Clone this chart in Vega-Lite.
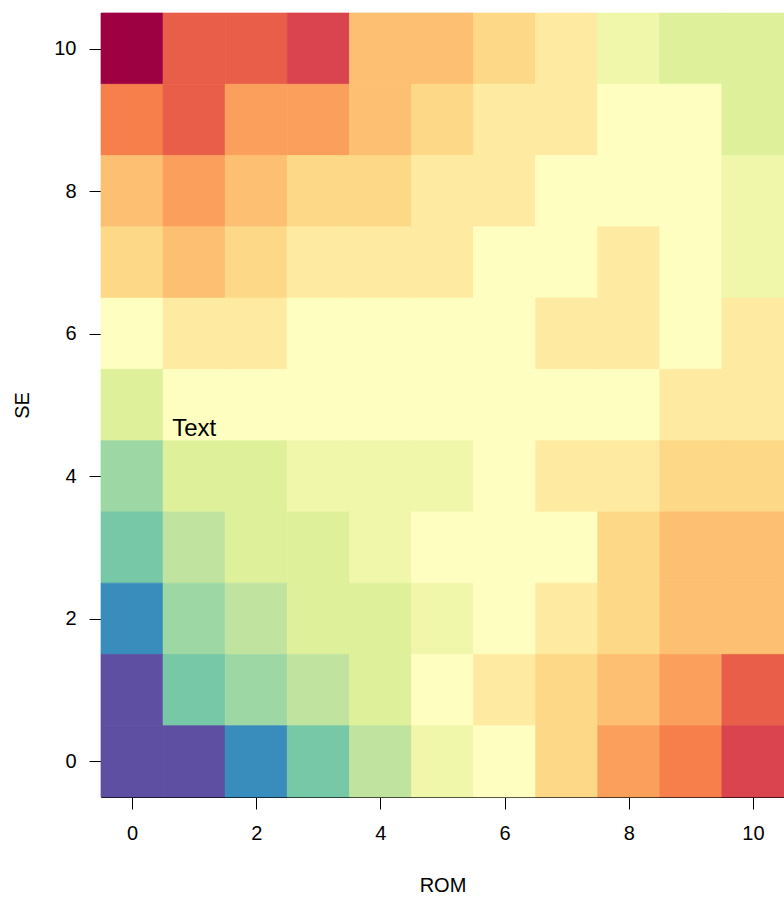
{
  "$schema": "https://vega.github.io/schema/vega-lite/v6.json",
  "width": 683,
  "height": 784,
  "autosize": {"type": "none"},
  "padding": {"left": 101, "top": 13, "right": 0, "bottom": 101},
  "background": "white",
  "config": {
    "view": {"stroke": "black", "strokeWidth": 1},
    "font": "Liberation Sans",
    "axis": {
      "domain": false,
      "grid": false,
      "tickColor": "black",
      "tickWidth": 1,
      "tickSize": 12,
      "labelColor": "black",
      "labelFontSize": 20,
      "labelFlush": false,
      "labelOverlap": false,
      "titleColor": "black",
      "titleFontSize": 20,
      "titleFontWeight": "normal"
    }
  },
  "layer": [
    {
      "data": {
        "values": [
          {"SE": 10, "ROM": 0, "z": 15}, {"SE": 10, "ROM": 1, "z": 13}, {"SE": 10, "ROM": 2, "z": 13}, {"SE": 10, "ROM": 3, "z": 14}, {"SE": 10, "ROM": 4, "z": 10}, {"SE": 10, "ROM": 5, "z": 10}, {"SE": 10, "ROM": 6, "z": 9}, {"SE": 10, "ROM": 7, "z": 8}, {"SE": 10, "ROM": 8, "z": 6}, {"SE": 10, "ROM": 9, "z": 5}, {"SE": 10, "ROM": 10, "z": 5},
          {"SE": 9, "ROM": 0, "z": 12}, {"SE": 9, "ROM": 1, "z": 13}, {"SE": 9, "ROM": 2, "z": 11}, {"SE": 9, "ROM": 3, "z": 11}, {"SE": 9, "ROM": 4, "z": 10}, {"SE": 9, "ROM": 5, "z": 9}, {"SE": 9, "ROM": 6, "z": 8}, {"SE": 9, "ROM": 7, "z": 8}, {"SE": 9, "ROM": 8, "z": 7}, {"SE": 9, "ROM": 9, "z": 7}, {"SE": 9, "ROM": 10, "z": 5},
          {"SE": 8, "ROM": 0, "z": 10}, {"SE": 8, "ROM": 1, "z": 11}, {"SE": 8, "ROM": 2, "z": 10}, {"SE": 8, "ROM": 3, "z": 9}, {"SE": 8, "ROM": 4, "z": 9}, {"SE": 8, "ROM": 5, "z": 8}, {"SE": 8, "ROM": 6, "z": 8}, {"SE": 8, "ROM": 7, "z": 7}, {"SE": 8, "ROM": 8, "z": 7}, {"SE": 8, "ROM": 9, "z": 7}, {"SE": 8, "ROM": 10, "z": 6},
          {"SE": 7, "ROM": 0, "z": 9}, {"SE": 7, "ROM": 1, "z": 10}, {"SE": 7, "ROM": 2, "z": 9}, {"SE": 7, "ROM": 3, "z": 8}, {"SE": 7, "ROM": 4, "z": 8}, {"SE": 7, "ROM": 5, "z": 8}, {"SE": 7, "ROM": 6, "z": 7}, {"SE": 7, "ROM": 7, "z": 7}, {"SE": 7, "ROM": 8, "z": 8}, {"SE": 7, "ROM": 9, "z": 7}, {"SE": 7, "ROM": 10, "z": 6},
          {"SE": 6, "ROM": 0, "z": 7}, {"SE": 6, "ROM": 1, "z": 8}, {"SE": 6, "ROM": 2, "z": 8}, {"SE": 6, "ROM": 3, "z": 7}, {"SE": 6, "ROM": 4, "z": 7}, {"SE": 6, "ROM": 5, "z": 7}, {"SE": 6, "ROM": 6, "z": 7}, {"SE": 6, "ROM": 7, "z": 8}, {"SE": 6, "ROM": 8, "z": 8}, {"SE": 6, "ROM": 9, "z": 7}, {"SE": 6, "ROM": 10, "z": 8},
          {"SE": 5, "ROM": 0, "z": 5}, {"SE": 5, "ROM": 1, "z": 7}, {"SE": 5, "ROM": 2, "z": 7}, {"SE": 5, "ROM": 3, "z": 7}, {"SE": 5, "ROM": 4, "z": 7}, {"SE": 5, "ROM": 5, "z": 7}, {"SE": 5, "ROM": 6, "z": 7}, {"SE": 5, "ROM": 7, "z": 7}, {"SE": 5, "ROM": 8, "z": 7}, {"SE": 5, "ROM": 9, "z": 8}, {"SE": 5, "ROM": 10, "z": 8},
          {"SE": 4, "ROM": 0, "z": 3}, {"SE": 4, "ROM": 1, "z": 5}, {"SE": 4, "ROM": 2, "z": 5}, {"SE": 4, "ROM": 3, "z": 6}, {"SE": 4, "ROM": 4, "z": 6}, {"SE": 4, "ROM": 5, "z": 6}, {"SE": 4, "ROM": 6, "z": 7}, {"SE": 4, "ROM": 7, "z": 8}, {"SE": 4, "ROM": 8, "z": 8}, {"SE": 4, "ROM": 9, "z": 9}, {"SE": 4, "ROM": 10, "z": 9},
          {"SE": 3, "ROM": 0, "z": 2}, {"SE": 3, "ROM": 1, "z": 4}, {"SE": 3, "ROM": 2, "z": 5}, {"SE": 3, "ROM": 3, "z": 5}, {"SE": 3, "ROM": 4, "z": 6}, {"SE": 3, "ROM": 5, "z": 7}, {"SE": 3, "ROM": 6, "z": 7}, {"SE": 3, "ROM": 7, "z": 7}, {"SE": 3, "ROM": 8, "z": 9}, {"SE": 3, "ROM": 9, "z": 10}, {"SE": 3, "ROM": 10, "z": 10},
          {"SE": 2, "ROM": 0, "z": 1}, {"SE": 2, "ROM": 1, "z": 3}, {"SE": 2, "ROM": 2, "z": 4}, {"SE": 2, "ROM": 3, "z": 5}, {"SE": 2, "ROM": 4, "z": 5}, {"SE": 2, "ROM": 5, "z": 6}, {"SE": 2, "ROM": 6, "z": 7}, {"SE": 2, "ROM": 7, "z": 8}, {"SE": 2, "ROM": 8, "z": 9}, {"SE": 2, "ROM": 9, "z": 10}, {"SE": 2, "ROM": 10, "z": 10},
          {"SE": 1, "ROM": 0, "z": 0}, {"SE": 1, "ROM": 1, "z": 2}, {"SE": 1, "ROM": 2, "z": 3}, {"SE": 1, "ROM": 3, "z": 4}, {"SE": 1, "ROM": 4, "z": 5}, {"SE": 1, "ROM": 5, "z": 7}, {"SE": 1, "ROM": 6, "z": 8}, {"SE": 1, "ROM": 7, "z": 9}, {"SE": 1, "ROM": 8, "z": 10}, {"SE": 1, "ROM": 9, "z": 11}, {"SE": 1, "ROM": 10, "z": 13},
          {"SE": 0, "ROM": 0, "z": 0}, {"SE": 0, "ROM": 1, "z": 0}, {"SE": 0, "ROM": 2, "z": 1}, {"SE": 0, "ROM": 3, "z": 2}, {"SE": 0, "ROM": 4, "z": 4}, {"SE": 0, "ROM": 5, "z": 6}, {"SE": 0, "ROM": 6, "z": 7}, {"SE": 0, "ROM": 7, "z": 9}, {"SE": 0, "ROM": 8, "z": 11}, {"SE": 0, "ROM": 9, "z": 12}, {"SE": 0, "ROM": 10, "z": 14}
        ]
      },
      "transform": [
        {"calculate": "datum.ROM - 0.5", "as": "x0"},
        {"calculate": "datum.ROM + 0.5", "as": "x1"},
        {"calculate": "datum.SE - 0.5", "as": "y0"},
        {"calculate": "datum.SE + 0.5", "as": "y1"}
      ],
      "mark": {"type": "rect", "strokeWidth": 0.7},
      "encoding": {
        "x": {
          "field": "x0", "type": "quantitative",
          "scale": {"domain": [-0.5, 10.5], "nice": false, "zero": false},
          "axis": {"title": "ROM", "values": [0, 2, 4, 6, 8, 10], "format": "d", "labelPadding": 14, "titlePadding": 32}
        },
        "x2": {"field": "x1"},
        "y": {
          "field": "y0", "type": "quantitative",
          "scale": {"domain": [-0.5, 10.5], "nice": false, "zero": false},
          "axis": {"title": "SE", "values": [0, 2, 4, 6, 8, 10], "format": "d", "labelPadding": 13, "titlePadding": 21}
        },
        "y2": {"field": "y1"},
        "color": {
          "field": "z", "type": "ordinal",
          "scale": {
            "domain": [0, 1, 2, 3, 4, 5, 6, 7, 8, 9, 10, 11, 12, 13, 14, 15],
            "range": ["#5E4FA2", "#388DBC", "#76C8A6", "#9DD8A4", "#C0E49F", "#DFF09B", "#F0F7AA", "#FFFEC1", "#FEEBA1", "#FDD987", "#FDBF71", "#FB9F5C", "#F67F4B", "#E95E48", "#D9444F", "#9E0142"]
          },
          "legend": null
        },
        "stroke": {
          "field": "z", "type": "ordinal",
          "scale": {
            "domain": [0, 1, 2, 3, 4, 5, 6, 7, 8, 9, 10, 11, 12, 13, 14, 15],
            "range": ["#5E4FA2", "#388DBC", "#76C8A6", "#9DD8A4", "#C0E49F", "#DFF09B", "#F0F7AA", "#FFFEC1", "#FEEBA1", "#FDD987", "#FDBF71", "#FB9F5C", "#F67F4B", "#E95E48", "#D9444F", "#9E0142"]
          },
          "legend": null
        }
      }
    },
    {
      "data": {"values": [{"ROM": 1, "SE": 4.565, "label": "Text"}]},
      "mark": {"type": "text", "fontSize": 24, "align": "center", "baseline": "alphabetic", "color": "black", "font": "Liberation Sans"},
      "encoding": {
        "x": {"field": "ROM", "type": "quantitative"},
        "y": {"field": "SE", "type": "quantitative"},
        "text": {"field": "label"}
      }
    }
  ]
}
